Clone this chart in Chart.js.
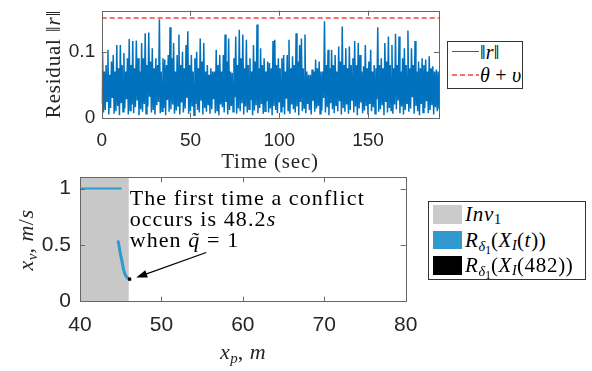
<!DOCTYPE html>
<html><head><meta charset="utf-8">
<script src="https://cdn.jsdelivr.net/npm/chart.js@4.4.1/dist/chart.umd.min.js"></script>
<style>
body{margin:0;width:592px;height:371px;position:relative;overflow:hidden;background:#fff;}
canvas{position:absolute;left:0;top:0;}
.t{position:absolute;font-family:'Liberation Serif','Times New Roman',serif;color:#262626;white-space:nowrap;line-height:1;}
.rot{transform:translate(-50%,-50%) rotate(-90deg);}
.ctr{transform:translate(-50%,-50%);}
sub{font-size:68%;vertical-align:-0.28em;line-height:0;letter-spacing:0;}
sub sub{font-size:80%;}
.box{position:absolute;border:1px solid #333;box-sizing:border-box;background:#fff;}
.sw{position:absolute;}
.lt{position:absolute;font-family:'Liberation Serif','Times New Roman',serif;color:#000;white-space:nowrap;line-height:1;transform:translateY(-50%);letter-spacing:0.7px;}
#ann{position:absolute;font-family:'Liberation Serif','Times New Roman',serif;color:#000;font-size:22px;line-height:21px;letter-spacing:1.1px;white-space:nowrap;}
</style></head><body>
<canvas id="c1" width="592" height="371"></canvas>
<canvas id="c2" width="592" height="371"></canvas>

<div class="t rot" style="left:53px;top:64px;font-size:21px;letter-spacing:0.8px;">Residual ‖<i>r</i>‖</div>
<div class="t ctr" style="left:270px;top:161px;font-size:21px;letter-spacing:0.8px;">Time (sec)</div>
<div class="t rot" style="left:26px;top:240px;font-size:22px;letter-spacing:0.5px;"><i>x<sub>v</sub></i>, <i>m</i>/<i>s</i></div>
<div class="t ctr" style="left:243px;top:352px;font-size:22px;letter-spacing:0.5px;"><i>x<sub>p</sub></i>, <i>m</i></div>

<div class="box" style="left:446.5px;top:41px;width:76.5px;height:47.5px;"></div>
<div class="sw" style="left:451.5px;top:51px;width:27px;height:1.2px;background:#0072BD;"></div>
<div class="sw" style="left:451.5px;top:74px;width:27px;height:2px;background:repeating-linear-gradient(to right,#f57272 0 5px,transparent 5px 8px);"></div>
<div class="lt" style="left:480px;top:52px;font-size:20px;letter-spacing:0.2px;">‖<i>r</i>‖</div>
<div class="lt" style="left:480px;top:75px;font-size:20px;letter-spacing:0.2px;"><i>θ</i> + <i>υ</i></div>

<div class="box" style="left:427.5px;top:200.5px;width:158.5px;height:79px;"></div>
<div class="sw" style="left:433px;top:205px;width:29px;height:18.5px;background:#cbcbcb;"></div>
<div class="sw" style="left:433px;top:230.5px;width:29px;height:18.5px;background:#3298d0;"></div>
<div class="sw" style="left:433px;top:256px;width:29px;height:18.5px;background:#000;"></div>
<div class="lt" style="left:465px;top:214px;font-size:21px;"><i>Inv</i><sub>1</sub></div>
<div class="lt" style="left:465px;top:240px;font-size:21px;"><i>R</i><sub><i>δ</i><sub>1</sub></sub>(<i>X<sub>I</sub></i>(<i>t</i>))</div>
<div class="lt" style="left:465px;top:265px;font-size:21px;"><i>R</i><sub><i>δ</i><sub>1</sub></sub>(<i>X<sub>I</sub></i>(482))</div>

<div id="ann"><div>The first time a conflict</div><div>occurs is 48.2<i>s</i></div><div>when <i>q̃</i> = 1</div></div>

<script>
// ---------- DATA ----------
// Residual ||r|| : troughs sampled at t = 0,1,...,190 s and peaks at t = 0.5,1.5,...,189.5 s
const residualTroughs = [
0.02,0.008,0.012,0.025,0.005,0.015,0.03,0.006,0.01,0.018,
0.004,0.022,0.009,0.014,0.028,0.005,0.011,0.02,0.007,0.016,
0.026,0.004,0.013,0.009,0.021,0.006,0.017,0.032,0.008,0.012,
0.005,0.019,0.024,0.007,0.01,0.015,0.004,0.027,0.009,0.013,
0.02,0.006,0.011,0.018,0.005,0.023,0.008,0.014,0.03,0.006,
0.01,0.017,0.004,0.021,0.012,0.008,0.026,0.005,0.015,0.009,
0.019,0.006,0.013,0.028,0.007,0.011,0.004,0.02,0.016,0.008,
0.024,0.005,0.012,0.018,0.009,0.031,0.006,0.014,0.01,0.022,
0.005,0.017,0.008,0.013,0.027,0.004,0.011,0.019,0.007,0.015,
0.021,0.006,0.01,0.025,0.008,0.014,0.004,0.018,0.012,0.007,
0.023,0.009,0.016,0.005,0.029,0.011,0.006,0.02,0.013,0.008,
0.017,0.004,0.024,0.01,0.015,0.007,0.021,0.012,0.005,0.026,
0.009,0.014,0.018,0.006,0.011,0.03,0.008,0.016,0.004,0.022,
0.013,0.007,0.019,0.01,0.025,0.005,0.015,0.009,0.02,0.006,
0.012,0.027,0.008,0.017,0.004,0.014,0.023,0.007,0.011,0.018,
0.005,0.021,0.01,0.016,0.006,0.028,0.009,0.013,0.019,0.004,
0.024,0.008,0.015,0.011,0.006,0.02,0.013,0.026,0.007,0.017,
0.005,0.012,0.022,0.009,0.014,0.031,0.006,0.018,0.01,0.004,
0.021,0.008,0.015,0.025,0.007,0.012,0.019,0.005,0.016,0.01,
0.013
];
const residualPeaks = [
0.098,0.07,0.08,0.103,0.065,0.085,0.095,0.07,0.11,0.075,
0.11,0.08,0.098,0.07,0.09,0.119,0.08,0.116,0.075,0.117,
0.09,0.07,0.113,0.09,0.128,0.08,0.129,0.085,0.105,0.075,
0.09,0.08,0.149,0.07,0.09,0.088,0.08,0.095,0.137,0.09,
0.113,0.07,0.095,0.126,0.08,0.1,0.075,0.11,0.131,0.08,
0.095,0.07,0.09,0.1,0.075,0.12,0.085,0.113,0.07,0.08,
0.065,0.075,0.07,0.07,0.103,0.08,0.095,0.07,0.095,0.126,
0.085,0.12,0.07,0.068,0.09,0.123,0.08,0.133,0.09,0.126,
0.075,0.118,0.08,0.09,0.07,0.11,0.085,0.141,0.075,0.105,
0.08,0.09,0.07,0.085,0.083,0.075,0.116,0.118,0.08,0.09,
0.075,0.09,0.095,0.07,0.095,0.118,0.075,0.093,0.08,0.128,
0.085,0.11,0.12,0.075,0.126,0.07,0.065,0.065,0.073,0.07,
0.088,0.075,0.085,0.07,0.07,0.146,0.08,0.103,0.075,0.103,
0.08,0.095,0.07,0.108,0.085,0.138,0.08,0.105,0.075,0.108,
0.08,0.09,0.116,0.08,0.113,0.095,0.07,0.078,0.11,0.075,
0.085,0.103,0.07,0.08,0.075,0.137,0.08,0.09,0.075,0.113,
0.085,0.123,0.08,0.11,0.075,0.127,0.08,0.123,0.07,0.09,
0.105,0.08,0.132,0.075,0.105,0.08,0.116,0.07,0.085,0.075,
0.09,0.08,0.088,0.07,0.093,0.075,0.078,0.07,0.073,0.07
];
const thresholdTime = [0, 190];
const thresholdValue = [0.151, 0.151];
const topXTicks = [0, 50, 100, 150];
const topYTicks = [0, 0.1];

// Phase plot
const invSetX = [40, 46];
const invSetY = [1.1, 1.1];
const reachFlatX = [40, 45.1];
const reachFlatY = [1, 1];
const reachCurveX = [44.7, 44.85, 45.0, 45.15, 45.3, 45.5, 45.7, 45.9, 46.0];
const reachCurveY = [0.53, 0.47, 0.41, 0.36, 0.3, 0.25, 0.222, 0.205, 0.2];
const conflictX = [46.1];
const conflictY = [0.2];
const botXTicks = [40, 50, 60, 70, 80];
const botYTicks = [0, 0.5, 1];

// ---------- helpers ----------
const zip = (xs, ys) => xs.map((x, i) => ({x: x, y: ys[i]}));
const residualSeries = [];
for (let i = 0; i < residualTroughs.length; i++) {
  residualSeries.push({x: i, y: residualTroughs[i]});
  if (i < residualPeaks.length) residualSeries.push({x: i + 0.5, y: residualPeaks[i]});
}

const boxTicks = {
  id: 'boxTicks',
  afterDatasetsDraw(chart, args, opts) {
    const {ctx, chartArea: a} = chart;
    const x = chart.scales.x, y = chart.scales.y;
    ctx.save();
    ctx.strokeStyle = opts.color || '#666';
    ctx.lineWidth = 1;
    const L = opts.len || 5;
    ctx.beginPath();
    x.ticks.forEach(t => {
      const px = Math.round(x.getPixelForValue(t.value)) + 0.5;
      if (px <= a.left + 1 || px >= a.right - 1) return;
      ctx.moveTo(px, a.bottom); ctx.lineTo(px, a.bottom - L);
      ctx.moveTo(px, a.top); ctx.lineTo(px, a.top + L);
    });
    y.ticks.forEach(t => {
      const py = Math.round(y.getPixelForValue(t.value)) + 0.5;
      if (py <= a.top + 1 || py >= a.bottom - 1) return;
      ctx.moveTo(a.left, py); ctx.lineTo(a.left + L, py);
      ctx.moveTo(a.right, py); ctx.lineTo(a.right - L, py);
    });
    ctx.stroke();
    ctx.strokeRect(Math.round(a.left) + 0.5, Math.round(a.top) + 0.5, Math.round(a.right - a.left), Math.round(a.bottom - a.top));
    ctx.restore();
  }
};

const arrowPlugin = {
  id: 'arrow',
  afterDatasetsDraw(chart, args, opts) {
    if (!opts || !opts.from) return;
    const x = chart.scales.x, y = chart.scales.y, ctx = chart.ctx;
    const x1 = x.getPixelForValue(opts.from[0]), y1 = y.getPixelForValue(opts.from[1]);
    const x2 = x.getPixelForValue(opts.to[0]), y2 = y.getPixelForValue(opts.to[1]);
    const ang = Math.atan2(y2 - y1, x2 - x1);
    const hl = 11, hw = 3.8;
    ctx.save();
    ctx.strokeStyle = '#000'; ctx.fillStyle = '#000'; ctx.lineWidth = 1.2;
    ctx.beginPath();
    ctx.moveTo(x1, y1);
    ctx.lineTo(x2 - Math.cos(ang) * hl * 0.8, y2 - Math.sin(ang) * hl * 0.8);
    ctx.stroke();
    ctx.beginPath();
    ctx.moveTo(x2, y2);
    ctx.lineTo(x2 - Math.cos(ang) * hl - Math.sin(ang) * hw, y2 - Math.sin(ang) * hl + Math.cos(ang) * hw);
    ctx.lineTo(x2 - Math.cos(ang) * hl + Math.sin(ang) * hw, y2 - Math.sin(ang) * hl - Math.cos(ang) * hw);
    ctx.closePath();
    ctx.fill();
    ctx.restore();
  }
};

Chart.defaults.animation = false;
Chart.defaults.responsive = false;
Chart.defaults.color = '#262626';

const noPadX = s => { s.height = 40; s.paddingLeft = 0; s.paddingRight = 0; s.paddingTop = 0; s.paddingBottom = 0; };
const noPadY = w => s => { s.width = w; s.paddingLeft = 0; s.paddingRight = 0; s.paddingTop = 0; s.paddingBottom = 0; };

function axis(opts) {
  return Object.assign({
    type: 'linear',
    grid: {display: false, drawTicks: false},
    border: {display: false},
  }, opts);
}

// ---------- top chart ----------
const chart1 = new Chart(document.getElementById('c1'), {
  type: 'line',
  data: {
    datasets: [
      {data: zip(thresholdTime, thresholdValue), borderColor: '#f57272', borderWidth: 2, borderDash: [5, 3], pointRadius: 0},
      {data: residualSeries, borderColor: '#0072BD', borderWidth: 1.5, pointRadius: 0, tension: 0}
    ]
  },
  options: {
    devicePixelRatio: 1,
    layout: {padding: {left: 0, right: 153, top: 10.7, bottom: 213.2}},
    plugins: {legend: {display: false}, tooltip: {enabled: false}, boxTicks: {color: '#666', len: 5}},
    scales: {
      x: axis({min: 0, max: 190,
        afterBuildTicks: s => { s.ticks = topXTicks.map(v => ({value: v})); },
        afterFit: noPadX,
        ticks: {font: {family: "'Liberation Sans', Arial, sans-serif", size: 19}, padding: 11.5, maxRotation: 0, color: '#262626'}}),
      y: axis({min: 0, max: 0.162,
        afterBuildTicks: s => { s.ticks = topYTicks.map(v => ({value: v})); },
        afterFit: noPadY(101.7),
        ticks: {font: {family: "'Liberation Sans', Arial, sans-serif", size: 19}, padding: 6.5, color: '#262626',
          callback: v => String(v)}})
    }
  },
  plugins: [boxTicks]
});

// ---------- bottom chart ----------
const chart2 = new Chart(document.getElementById('c2'), {
  type: 'line',
  data: {
    datasets: [
      {data: zip(conflictX, conflictY), showLine: false, pointStyle: 'rect', pointRadius: 2.2, pointBackgroundColor: '#000', pointBorderWidth: 0},
      {data: zip(reachCurveX, reachCurveY), borderColor: '#3298d0', borderWidth: 3, pointRadius: 0, tension: 0.3, borderCapStyle: 'round'},
      {data: zip(reachFlatX, reachFlatY), borderColor: '#3298d0', borderWidth: 2, pointRadius: 0},
      {data: zip(invSetX, invSetY), borderWidth: 0, pointRadius: 0, fill: 'origin', backgroundColor: '#c8c8c8'}
    ]
  },
  options: {
    devicePixelRatio: 1,
    layout: {padding: {left: 0, right: 186.3, top: 177.3, bottom: 29.3}},
    plugins: {legend: {display: false}, tooltip: {enabled: false}, boxTicks: {color: '#666', len: 5},
      arrow: {from: [55.5, 0.435], to: [46.9, 0.213]}},
    scales: {
      x: axis({min: 40, max: 80,
        afterBuildTicks: s => { s.ticks = botXTicks.map(v => ({value: v})); },
        afterFit: noPadX,
        ticks: {font: {family: "'Liberation Sans', Arial, sans-serif", size: 21}, padding: 11, maxRotation: 0, color: '#262626'}}),
      y: axis({min: 0, max: 1.1,
        afterBuildTicks: s => { s.ticks = botYTicks.map(v => ({value: v})); },
        afterFit: noPadY(80),
        ticks: {font: {family: "'Liberation Sans', Arial, sans-serif", size: 21}, padding: 9, color: '#262626',
          callback: v => String(v)}})
    }
  },
  plugins: [boxTicks, arrowPlugin]
});

// place annotation text through the scales
const annotationAt = [46.1, 1.017];
const ann = document.getElementById('ann');
ann.style.left = chart2.scales.x.getPixelForValue(annotationAt[0]) + 'px';
ann.style.top = chart2.scales.y.getPixelForValue(annotationAt[1]) + 'px';
</script>
</body></html>
